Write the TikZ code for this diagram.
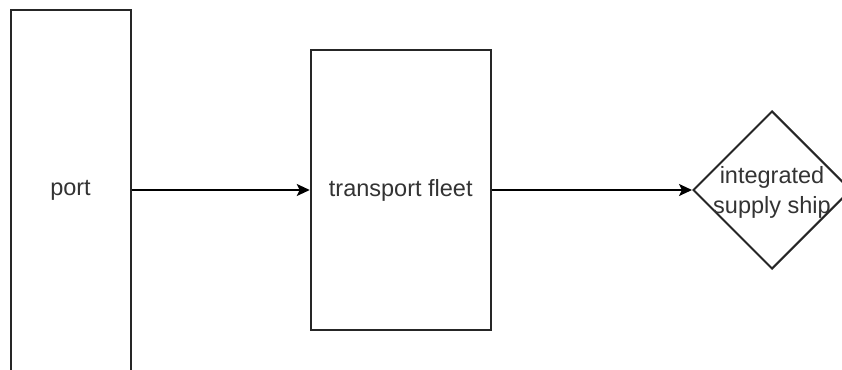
\documentclass[tikz,border=0pt]{standalone}
\usepackage{fontspec}
\setmainfont{Liberation Sans}
\usetikzlibrary{shapes.geometric,arrows.meta}
\begin{document}
\begin{tikzpicture}[x=1pt,y=-1pt,
  txt/.style={font=\fontsize{23.5}{30}\selectfont,text=black!80,align=center,inner sep=0pt},
  box/.style={draw=black!85,line width=2pt,fill=white,inner sep=0pt,txt},
  dia/.style={draw=black!85,line width=2pt,diamond,aspect=1,inner sep=0pt,minimum width=158pt,minimum height=158pt},
  link/.style={line width=2pt,draw=black,-{Stealth[length=13pt,width=12pt,inset=3pt]}}]
\useasboundingbox (0,0) rectangle (842,369);
\begin{scope}
\clip (0,0) rectangle (842,369);
\node[box,minimum width=120pt,minimum height=380pt,label={[txt,yshift=10pt]center:port}] (port) at (70.5,200) {};
\node[box,minimum width=180pt,minimum height=280pt] (fleet) at (400.75,190) {transport fleet};
\node[dia,label={[txt,yshift=-2pt]center:integrated\\supply ship}] (ship) at (772,190) {};
\draw[link] (port.east |- fleet.west) -- (fleet.west);
\draw[link] (fleet.east) -- (ship.west);
\end{scope}
\end{tikzpicture}
\end{document}
